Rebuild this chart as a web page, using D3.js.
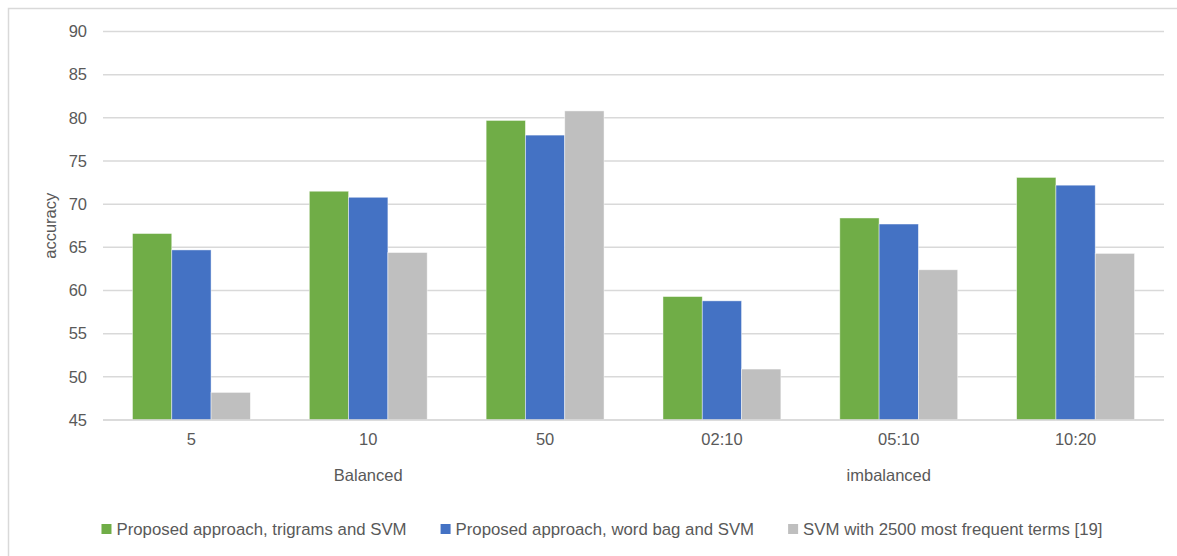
<!DOCTYPE html>
<html>
<head>
<meta charset="utf-8">
<script src="https://cdn.jsdelivr.net/npm/d3@7"></script>
<style>
  html, body { margin: 0; padding: 0; background: #fff; }
  svg { display: block; font-family: "Liberation Sans", Arial, sans-serif; }
</style>
</head>
<body>
<svg id="chart" width="1177" height="556"></svg>
<script>
// Categories (two-level axis: sample ratio within group)
const categories = ["5", "10", "50", "02:10", "05:10", "10:20"];
const groups = [
  { name: "Balanced", members: ["5", "10", "50"], dx: 0 },
  { name: "imbalanced", members: ["02:10", "05:10", "10:20"], dx: -10 }
];
const seriesNames = [
  "Proposed approach, trigrams and SVM",
  "Proposed approach, word bag and SVM",
  "SVM with 2500 most frequent terms [19]"
];
const trigramsSvm = [66.6, 71.5, 79.7, 59.3, 68.4, 73.1];
const wordBagSvm  = [64.7, 70.8, 78.0, 58.8, 67.7, 72.2];
const svm2500     = [48.2, 64.4, 80.8, 50.9, 62.4, 64.3];
const yTicks = [45, 50, 55, 60, 65, 70, 75, 80, 85, 90];
const colors = ["#70AD47", "#4472C4", "#BFBFBF"];

const seriesValues = [trigramsSvm, wordBagSvm, svm2500];
const textColor = "#595959";
const gridColor = "#D9D9D9";
const fontSize = 16.5;
const legendFontSize = 16.8;

const svg = d3.select("#chart");

// chart area frame
svg.append("rect")
  .attr("x", 8.5).attr("y", 8.5)
  .attr("width", 1190).attr("height", 570)
  .attr("fill", "#fff").attr("stroke", gridColor).attr("stroke-width", 1.5);

const plot = { left: 103, right: 1164, top: 31.5, bottom: 420 };

const x0 = d3.scaleBand()
  .domain(categories)
  .range([plot.left, plot.right])
  .paddingInner(1 / 3)
  .paddingOuter(1 / 6);

const x1 = d3.scaleBand()
  .domain(seriesNames)
  .range([0, x0.bandwidth()]);

const y = d3.scaleLinear()
  .domain([45, 90])
  .range([plot.bottom, plot.top]);

// horizontal gridlines
svg.append("g")
  .selectAll("line")
  .data(yTicks)
  .join("line")
  .attr("x1", plot.left).attr("x2", plot.right)
  .attr("y1", d => y(d)).attr("y2", d => y(d))
  .attr("stroke", gridColor).attr("stroke-width", 1.5);

// y axis labels
const yAxis = svg.append("g")
  .attr("transform", `translate(${plot.left - 16},0)`)
  .call(d3.axisLeft(y).tickValues(yTicks).tickSize(0).tickPadding(0));
yAxis.select(".domain").remove();
yAxis.selectAll("text")
  .attr("fill", textColor)
  .style("font-size", fontSize + "px")
  .style("font-family", "'Liberation Sans', Arial, sans-serif");

// y axis title
svg.append("text")
  .attr("transform", `translate(56, ${(plot.top + plot.bottom) / 2}) rotate(-90)`)
  .attr("text-anchor", "middle")
  .attr("fill", textColor)
  .style("font-size", fontSize + "px")
  .text("accuracy");

// bars
const barGroups = svg.append("g")
  .selectAll("g")
  .data(categories)
  .join("g")
  .attr("transform", d => `translate(${x0(d)},0)`);

barGroups.selectAll("rect")
  .data((d, i) => seriesNames.map((s, j) => ({ series: s, value: seriesValues[j][i], color: colors[j] })))
  .join("rect")
  .attr("x", d => x1(d.series))
  .attr("width", x1.bandwidth())
  .attr("y", d => y(d.value))
  .attr("height", d => y(45) - y(d.value))
  .attr("fill", d => d.color)
  .attr("stroke", "#fff")
  .attr("stroke-opacity", 0.6)
  .attr("stroke-width", 0.75);

// baseline
svg.append("line")
  .attr("x1", plot.left).attr("x2", plot.right)
  .attr("y1", y(45)).attr("y2", y(45))
  .attr("stroke", gridColor).attr("stroke-width", 1.5);

// category labels
const xAxis = svg.append("g")
  .attr("transform", `translate(0,${plot.bottom + 13})`)
  .call(d3.axisBottom(x0).tickSize(0).tickPadding(0));
xAxis.select(".domain").remove();
xAxis.selectAll("text")
  .attr("fill", textColor)
  .style("font-size", fontSize + "px")
  .style("font-family", "'Liberation Sans', Arial, sans-serif");

// group labels
svg.append("g")
  .selectAll("text")
  .data(groups)
  .join("text")
  .attr("x", g => {
    const first = x0(g.members[0]);
    const last = x0(g.members[g.members.length - 1]) + x0.bandwidth();
    return (first + last) / 2 + g.dx;
  })
  .attr("y", 481)
  .attr("text-anchor", "middle")
  .attr("fill", textColor)
  .style("font-size", fontSize + "px")
  .text(g => g.name);

// legend
const legend = svg.append("g");
const items = legend.selectAll("g")
  .data(seriesNames)
  .join("g");
items.append("rect")
  .attr("width", 10).attr("height", 10)
  .attr("y", -11)
  .attr("fill", (d, i) => colors[i]);
items.append("text")
  .attr("x", 15)
  .attr("y", 0)
  .attr("fill", textColor)
  .style("font-size", legendFontSize + "px")
  .text(d => d);

let offset = 0;
const gap = 34;
const widths = [];
items.each(function () {
  const w = this.querySelector("text").getComputedTextLength() + 15;
  widths.push(w);
});
const total = d3.sum(widths) + gap * (widths.length - 1);
const legendCenter = 602;
items.attr("transform", (d, i) => {
  const tx = offset;
  offset += widths[i] + gap;
  return `translate(${tx},0)`;
});
legend.attr("transform", `translate(${legendCenter - total / 2},535)`);
</script>
</body>
</html>
